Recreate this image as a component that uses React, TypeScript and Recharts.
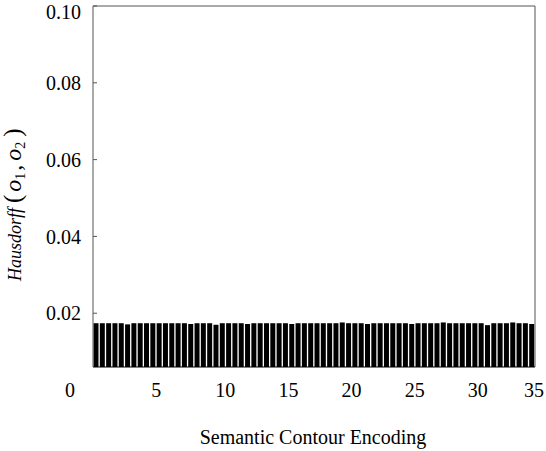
import { Bar, BarChart, ReferenceLine, XAxis, YAxis } from 'recharts';

// bar centres along the encoding axis (two bars per unit)
const positions = Array.from({ length: 70 }, (_, i) => i * 0.5 + 0.25);

const distances = [
  0.0174, 0.0174, 0.0174, 0.0174, 0.0174, 0.0171, 0.0174, 0.0174, 0.0174, 0.0174,
  0.0174, 0.0174, 0.0174, 0.0174, 0.0174, 0.0172, 0.0174, 0.0174, 0.0174, 0.0170,
  0.0174, 0.0174, 0.0174, 0.0174, 0.0172, 0.0174, 0.0174, 0.0174, 0.0174, 0.0174,
  0.0174, 0.0172, 0.0174, 0.0174, 0.0174, 0.0174, 0.0174, 0.0174, 0.0174, 0.0176,
  0.0174, 0.0174, 0.0174, 0.0172, 0.0174, 0.0174, 0.0174, 0.0174, 0.0174, 0.0174,
  0.0172, 0.0174, 0.0174, 0.0174, 0.0174, 0.0176, 0.0174, 0.0174, 0.0174, 0.0174,
  0.0174, 0.0174, 0.0169, 0.0174, 0.0174, 0.0174, 0.0176, 0.0174, 0.0174, 0.0172,
];

const xTicks = [0, 5, 10, 15, 20, 25, 30, 35];
const yTicks = [0.02, 0.04, 0.06, 0.08, 0.1];

const data = positions.map((x, i) => ({ x, d: distances[i] }));

const font = 'Liberation Serif, Times New Roman, serif';

function XTick({ x, y, payload }: any) {
  // the origin "0" sits left of the axis corner in the original
  const v = payload.value;
  const dx = v === 0 ? -23 : v === 35 ? -1 : v === 5 ? 0 : 6;
  return (
    <text x={x + dx} y={y + 22} textAnchor="middle" fontFamily={font} fontSize={20} fill="#000">
      {v}
    </text>
  );
}

function YTitle() {
  return (
    <text transform="translate(21,281) rotate(-90)" fontFamily={font} fontSize={18} fill="#000">
      <tspan fontStyle="italic">Hausdorff</tspan>
      <tspan fontSize={25} dx={5}>(</tspan>
      <tspan fontSize={24} fontStyle="italic" dx={3}>o</tspan>
      <tspan fontSize={14} dy={4}>1</tspan>
      <tspan fontSize={24} dy={-4} dx={2}>,</tspan>
      <tspan fontSize={24} fontStyle="italic" dx={4}>o</tspan>
      <tspan fontSize={14} dy={4}>2</tspan>
      <tspan fontSize={25} dy={-4} dx={5}>)</tspan>
    </text>
  );
}

export default function App() {
  return (
    <div style={{ position: 'absolute', left: 0, top: 0, background: '#fff' }}>
      <BarChart
        width={546}
        height={451}
        data={data}
        margin={{ top: 6, right: 11, left: 0, bottom: 0 }}
        barCategoryGap="8%"
      >
        <XAxis
          dataKey="x"
          type="number"
          domain={[0, 35]}
          ticks={xTicks}
          height={84}
          axisLine={{ stroke: '#000' }}
          tickLine={false}
          tick={<XTick />}
          interval={0}
        />
        <YAxis
          type="number"
          domain={[0.006, 0.1]}
          ticks={yTicks}
          width={93}
          axisLine={{ stroke: '#555' }}
          tickLine={{ stroke: '#555' }}
          tickSize={-4}
          tickMargin={16}
          tickFormatter={(v: number) => v.toFixed(2)}
          tick={{ fontSize: 20, fill: '#000', fontFamily: font }}
        />
        <ReferenceLine y={0.1} stroke="#555" />
        <ReferenceLine x={35} stroke="#555" />
        <Bar dataKey="d" fill="#000" isAnimationActive={false} />
        <YTitle />
        <text x={313} y={444} textAnchor="middle" fontFamily={font} fontSize={20} fill="#000">
          Semantic Contour Encoding
        </text>
      </BarChart>
    </div>
  );
}
